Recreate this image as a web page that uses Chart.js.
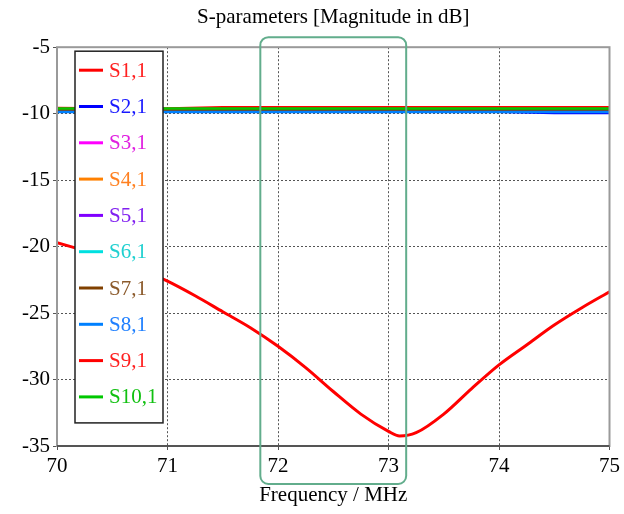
<!DOCTYPE html>
<html>
<head>
<meta charset="utf-8">
<script src="https://cdn.jsdelivr.net/npm/chart.js@4.4.1/dist/chart.umd.min.js"></script>
<style>
html, body { margin: 0; padding: 0; background: #fff; }
#wrap { position: relative; width: 624px; height: 514px; }
</style>
</head>
<body>
<div id="wrap"><canvas id="sparams"></canvas></div>
<script>
// reflection curve S1,1
const freqS11 = [70, 70.25, 70.5, 70.75, 71, 71.25, 71.5, 71.75, 72, 72.25, 72.5, 72.75, 73, 73.1, 73.25, 73.5, 73.75, 74, 74.25, 74.5, 74.75, 75]
const s11 = [-19.7, -20.3, -20.9, -21.7, -22.6, -23.7, -24.9, -26.1, -27.5, -29.1, -30.9, -32.6, -33.9, -34.25, -34.0, -32.6, -30.7, -28.9, -27.4, -25.9, -24.6, -23.4]

// transmission curves, all sitting close to -10 dB
const freqTrans = [70, 70.5, 71, 71.5, 72, 72.5, 73, 73.5, 74, 74.5, 75]
const s21 = [-9.85, -9.85, -9.85, -9.85, -9.85, -9.85, -9.85, -9.85, -9.85, -9.95, -9.95]
const s31 = [-9.7, -9.7, -9.7, -9.7, -9.7, -9.7, -9.7, -9.7, -9.7, -9.7, -9.7]
const s41 = [-9.65, -9.65, -9.65, -9.65, -9.65, -9.65, -9.65, -9.65, -9.65, -9.65, -9.65]
const s51 = [-9.7, -9.7, -9.7, -9.7, -9.7, -9.7, -9.7, -9.7, -9.7, -9.7, -9.7]
const s61 = [-9.75, -9.75, -9.75, -9.75, -9.75, -9.75, -9.75, -9.75, -9.75, -9.75, -9.75]
const s71 = [-9.7, -9.7, -9.7, -9.7, -9.7, -9.7, -9.7, -9.7, -9.7, -9.7, -9.7]
const s81 = [-9.88, -9.88, -9.88, -9.88, -9.88, -9.88, -9.88, -9.88, -9.88, -9.88, -9.88]
const s91 = [-9.58, -9.62, -9.62, -9.52, -9.52, -9.52, -9.52, -9.52, -9.52, -9.52, -9.52]
const s101 = [-9.62, -9.62, -9.62, -9.62, -9.62, -9.62, -9.62, -9.62, -9.62, -9.62, -9.62]

const seriesNames = ['S1,1', 'S2,1', 'S3,1', 'S4,1', 'S5,1', 'S6,1', 'S7,1', 'S8,1', 'S9,1', 'S10,1']
const lineColors = ['#ff0000', '#0000ff', '#ff00ff', '#ff8000', '#8000ff', '#00e0e0', '#804000', '#0080ff', '#ff0000', '#00c800']
const textColors = ['#ff2020', '#1818ff', '#e020e0', '#ff8020', '#8020f0', '#20d0d0', '#8b5a2b', '#2080ff', '#ff2020', '#10c010']

const xTicks = [70, 71, 72, 73, 74, 75]
const yTicks = [-5, -10, -15, -20, -25, -30, -35]
const highlightRange = [71.84, 73.16]

const serif = "'Liberation Serif', 'Times New Roman', serif"

const pair = (xs, ys) => xs.map((x, i) => ({ x, y: ys[i] }))
const transSeries = [s21, s31, s41, s51, s61, s71, s81, s91, s101]

const datasets = [{
    label: seriesNames[0],
    data: pair(freqS11, s11),
    borderColor: lineColors[0],
    borderWidth: 3,
    pointRadius: 0,
    cubicInterpolationMode: 'monotone',
    order: 0
}].concat(transSeries.map((ys, i) => ({
    label: seriesNames[i + 1],
    data: pair(freqTrans, ys),
    borderColor: lineColors[i + 1],
    borderWidth: 2.5,
    pointRadius: 0,
    order: 9 - i   // later series drawn on top, like the original
})))

const plotFrame = {
    id: 'plotFrame',
    afterDatasetsDraw(chart) {
        const { ctx, chartArea: a } = chart
        ctx.save()
        ctx.strokeStyle = '#9a9a9a'
        ctx.lineWidth = 2
        ctx.strokeRect(a.left, a.top, a.right - a.left, a.bottom - a.top)
        ctx.strokeStyle = '#555'
        ctx.beginPath()
        ctx.moveTo(a.left, a.bottom)
        ctx.lineTo(a.right, a.bottom)
        ctx.stroke()
        ctx.restore()
    }
}

const boxLegend = {
    id: 'boxLegend',
    afterDatasetsDraw(chart) {
        const { ctx, chartArea: a } = chart
        const left = a.left + 18
        const top = a.top + 4
        const rowH = 36.3
        const w = 88
        const h = 19 + rowH * (seriesNames.length - 1) + 26
        ctx.save()
        ctx.fillStyle = '#fff'
        ctx.fillRect(left, top, w, h)
        ctx.strokeStyle = '#222'
        ctx.lineWidth = 1.5
        ctx.strokeRect(left, top, w, h)
        ctx.font = '21px ' + serif
        ctx.textBaseline = 'middle'
        ctx.textAlign = 'left'
        seriesNames.forEach((name, i) => {
            const y = top + 19 + i * rowH
            ctx.strokeStyle = lineColors[i]
            ctx.lineWidth = 3
            ctx.beginPath()
            ctx.moveTo(left + 4, y)
            ctx.lineTo(left + 28, y)
            ctx.stroke()
            ctx.fillStyle = textColors[i]
            ctx.fillText(name, left + 34, y + 1)
        })
        ctx.restore()
    }
}

const highlight = {
    id: 'highlight',
    afterDraw(chart) {
        const { ctx, chartArea: a, scales: { x } } = chart
        const x1 = x.getPixelForValue(highlightRange[0])
        const x2 = x.getPixelForValue(highlightRange[1])
        const y1 = a.top - 10
        const y2 = a.bottom + 38
        ctx.save()
        ctx.strokeStyle = '#62ad8c'
        ctx.lineWidth = 2
        ctx.beginPath()
        ctx.roundRect(x1, y1, x2 - x1, y2 - y1, 8)
        ctx.stroke()
        ctx.restore()
    }
}

new Chart(document.getElementById('sparams'), {
    type: 'line',
    data: { datasets },
    plugins: [plotFrame, boxLegend, highlight],
    options: {
        responsive: true,
        maintainAspectRatio: false,
        animation: false,
        layout: { padding: { left: 0, right: 0, top: 0, bottom: 0 } },
        plugins: {
            legend: { display: false },
            tooltip: { enabled: false },
            title: {
                display: true,
                fullSize: false,
                text: 'S-parameters [Magnitude in dB]',
                color: '#000',
                font: { family: serif, size: 21, weight: 'normal' },
                padding: { top: 5, bottom: 17 }
            }
        },
        scales: {
            x: {
                type: 'linear',
                min: 70,
                max: 75,
                afterBuildTicks: axis => { axis.ticks = xTicks.map(v => ({ value: v })) },
                afterFit: scale => { scale.height = 68 },
                grid: { color: '#555', lineWidth: 1, tickLength: 4 },
                border: { display: false, dash: [2, 2] },
                ticks: {
                    color: '#000',
                    padding: 4,
                    maxRotation: 0,
                    font: { family: serif, size: 21 }
                },
                title: {
                    display: true,
                    text: 'Frequency / MHz',
                    color: '#000',
                    font: { family: serif, size: 21 },
                    padding: { top: 0, bottom: 6 }
                }
            },
            y: {
                min: -35,
                max: -5,
                afterBuildTicks: axis => { axis.ticks = yTicks.map(v => ({ value: v })) },
                afterFit: scale => { scale.width = 57 },
                grid: { color: '#555', lineWidth: 1, tickLength: 4 },
                border: { display: false, dash: [2, 2] },
                ticks: {
                    color: '#000',
                    padding: 3,
                    font: { family: serif, size: 21 }
                }
            }
        }
    }
})
</script>
</body>
</html>
